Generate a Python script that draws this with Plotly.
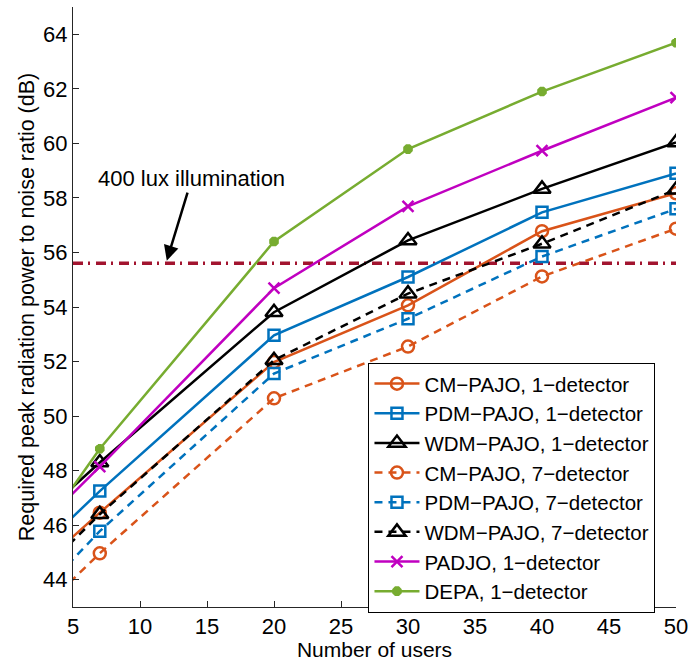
import plotly.graph_objects as go

users = [1, 7, 20, 30, 40, 50]

cm_1 = [43.82, 46.46, 51.98, 54.06, 56.78, 58.17]
pdm_1 = [44.43, 47.25, 52.96, 55.10, 57.47, 58.90]
wdm_1 = [45.63, 48.30, 53.81, 56.44, 58.33, 60.03]
cm_7 = [42.12, 44.97, 50.65, 52.55, 55.12, 56.87]
pdm_7 = [42.69, 45.78, 51.56, 53.57, 55.85, 57.60]
wdm_7 = [43.49, 46.40, 52.05, 54.49, 56.32, 58.30]
padjo_1 = [45.21, 48.15, 54.69, 57.69, 59.73, 61.68]
depa_1 = [44.63, 48.80, 56.40, 59.79, 61.90, 63.69]

lux_x = [5, 50]
lux_level = 55.6

x_ticks = [5, 10, 15, 20, 25, 30, 35, 40, 45, 50]
y_ticks = [44, 46, 48, 50, 52, 54, 56, 58, 60, 62, 64]

FONT = "Liberation Sans, Arial, sans-serif"
ORANGE = "#D95319"
BLUE = "#0072BD"
BLACK = "#000000"
MAGENTA = "#C000C0"
GREEN = "#77AC30"
DARKRED = "#A2142F"

series = [
    ("CM\u2212PAJO, 1\u2212detector", cm_1, ORANGE, "solid", "circle-open", 12),
    ("PDM\u2212PAJO, 1\u2212detector", pdm_1, BLUE, "solid", "square-open", 11),
    ("WDM\u2212PAJO, 1\u2212detector", wdm_1, BLACK, "solid", "triangle-up-open", 15),
    ("CM\u2212PAJO, 7\u2212detector", cm_7, ORANGE, "dash", "circle-open", 12),
    ("PDM\u2212PAJO, 7\u2212detector", pdm_7, BLUE, "dash", "square-open", 11),
    ("WDM\u2212PAJO, 7\u2212detector", wdm_7, BLACK, "dash", "triangle-up-open", 15),
    ("PADJO, 1\u2212detector", padjo_1, MAGENTA, "solid", "x-thin-open", 11),
    ("DEPA, 1\u2212detector", depa_1, GREEN, "solid", "asterisk-open", 8),
]

fig = go.Figure()

fig.add_trace(go.Scatter(
    x=lux_x, y=[lux_level, lux_level], mode="lines",
    line=dict(color=DARKRED, width=3.5, dash="10px,5px,2px,6px"),
    showlegend=False, hoverinfo="skip"))

for name, vals, color, dash, sym, size in series:
    fig.add_trace(go.Scatter(
        x=users, y=vals, name=name, mode="lines+markers",
        line=dict(color=color, width=2.5, dash="8px,6px" if dash == "dash" else "solid"),
        marker=dict(symbol=sym, size=size, color=color,
                    line=dict(color=color, width=2.5 if "asterisk" not in sym else 4)),
    ))

fig.add_annotation(
    x=12, y=55.7, xref="x", yref="y",
    text="400 lux illumination", showarrow=True,
    ax=25, ay=-82, arrowhead=2, arrowsize=1.2, arrowwidth=2.5, arrowcolor="black",
    font=dict(family=FONT, size=22, color="black"))

fig.update_layout(
    width=695, height=661,
    margin=dict(l=73, r=13, t=7, b=52),
    paper_bgcolor="white", plot_bgcolor="white",
    font=dict(family=FONT, size=22, color="black"),
    showlegend=True,
    legend=dict(
        x=0.49, y=0.407, xanchor="left", yanchor="top",
        bgcolor="white", bordercolor="black", borderwidth=1,
        font=dict(family=FONT, size=20.5, color="black"),
        itemwidth=45, tracegroupgap=0,
    ),
    xaxis=dict(
        range=[5, 50], tickvals=x_ticks, ticks="inside", ticklen=6,
        tickcolor="#262626", showline=True, linecolor="#262626", linewidth=1,
        showgrid=False, zeroline=False, mirror=False,
        title=dict(text="Number of users", standoff=0, font=dict(size=21)),
        tickfont=dict(size=22),
    ),
    yaxis=dict(
        range=[43, 65], tickvals=y_ticks, ticks="inside", ticklen=6,
        tickcolor="#262626", showline=True, linecolor="#262626", linewidth=1,
        showgrid=False, zeroline=False, mirror=False,
        title=dict(text="Required peak radiation power to noise ratio (dB)", standoff=2, font=dict(size=21.5)),
        tickfont=dict(size=22),
    ),
)

fig.write_html("out.html")
